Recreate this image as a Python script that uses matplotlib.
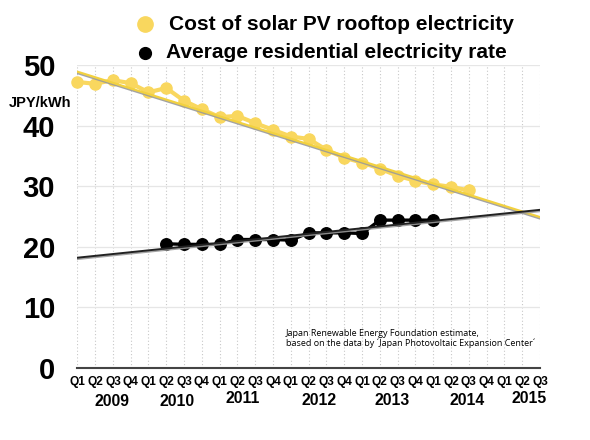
import matplotlib
matplotlib.use("Agg")
import matplotlib.pyplot as plt
import matplotlib.patheffects as pe
from matplotlib.lines import Line2D

# quarters from 2009 Q1 to 2015 Q3
quarters = ['Q1', 'Q2', 'Q3', 'Q4'] * 6 + ['Q1', 'Q2', 'Q3']
years = ['2009', '2010', '2011', '2012', '2013', '2014', '2015']

# cost of solar PV rooftop electricity, 2009 Q1 .. 2014 Q3 (JPY/kWh)
solar_x = list(range(0, 23))
solar = [47.2, 46.9, 47.5, 47.0, 45.5, 46.2, 44.1, 42.7, 41.4, 41.6, 40.4, 39.3,
         38.2, 37.8, 36.0, 34.7, 33.9, 32.9, 31.7, 30.9, 30.3, 29.9, 29.3]

# average residential electricity rate, 2010 Q2 .. 2014 Q1
rate_x = list(range(5, 21))
rate = [20.5, 20.4, 20.4, 20.4, 21.2, 21.2, 21.2, 21.1,
        22.3, 22.3, 22.3, 22.2, 24.4, 24.4, 24.4, 24.4]

# trend lines
trend_x = [0, 26]
solar_trend = [48.9, 24.9]
rate_trend = [18.2, 26.1]

yellow = '#F9D75E'
W, H = 590, 440

fig = plt.figure(figsize=(5.9, 4.4), dpi=100)
ax = fig.add_axes([77.3 / W, 1 - 368 / H, (540 - 77.3) / W, (368 - 65) / H])
ax.set_xlim(0, 26)
ax.set_ylim(0, 50)

# grid
for i in range(27):
    ax.axvline(i, color='#c8c8c8', lw=0.8, ls=(0, (1, 2)), zorder=1)
for v in [10, 20, 30, 40, 50]:
    ax.axhline(v, color='#e6e6e6', lw=0.9, zorder=1)

ax.plot(solar_x, solar, color=yellow, lw=3, marker='o', ms=8,
        mec=yellow, zorder=3, clip_on=False)
ax.plot(rate_x, rate, color='black', lw=2.4, marker='o', ms=8.3, zorder=3)

shadow = [pe.SimpleLineShadow(offset=(0, -1), shadow_color='#9a9a9a', alpha=0.9, rho=1),
          pe.Normal()]
ax.plot(trend_x, solar_trend, color='#F2D140', lw=1.6, zorder=4, path_effects=shadow)
ax.plot(trend_x, rate_trend, color='#222222', lw=1.4, zorder=4, path_effects=shadow)

for s in ['top', 'right', 'left']:
    ax.spines[s].set_visible(False)
ax.spines['bottom'].set_color('#444444')
ax.spines['bottom'].set_linewidth(1.5)
ax.spines['bottom'].set_zorder(5)

ax.set_xticks(range(27))
ax.set_xticklabels(quarters, fontsize=8.6, fontweight='bold', family='Liberation Sans')
ax.set_yticks([0, 10, 20, 30, 40, 50])
ax.set_yticklabels(['0', '10', '20', '30', '40', '50'], fontsize=21,
                   fontweight='bold', family='Liberation Sans')
ax.tick_params(axis='x', length=0, pad=6)
ax.tick_params(axis='y', length=0, pad=16)

# year labels under the quarters
year_pos = [1.95, 5.6, 9.3, 13.6, 17.7, 21.9, 25.4]
year_dy = [0, 0, 3, 1, 1, 1, 3]
for lab, xp, dy in zip(years, year_pos, year_dy):
    xf = (77.3 + xp * (540 - 77.3) / 26) / W
    fig.text(xf, 1 - (401 - dy) / H, lab, ha='center', va='center', fontsize=11.3,
             fontweight='bold', family='Liberation Sans')

fig.text(40.5 / W, 1 - 103 / H, 'JPY/kWh', ha='center', va='center', fontsize=10.5,
         fontweight='bold', family='Liberation Sans')

# legend
fig.add_artist(Line2D([145 / W], [1 - 24.5 / H], marker='o', ms=11, color=yellow,
                      mec=yellow, transform=fig.transFigure))
fig.add_artist(Line2D([145 / W], [1 - 52.5 / H], marker='o', ms=8.5, color='black',
                      transform=fig.transFigure))
fig.text(169 / W, 1 - 24 / H, 'Cost of solar PV rooftop electricity', ha='left',
         va='center', fontsize=15, fontweight='bold', family='Liberation Sans')
fig.text(166 / W, 1 - 52 / H, 'Average residential electricity rate', ha='left',
         va='center', fontsize=15, fontweight='bold', family='Liberation Sans')

fig.text(286 / W, 1 - 338.5 / H,
         'Japan Renewable Energy Foundation estimate,\n'
         'based on the data by \u00b4Japan Photovoltaic Expansion Center\u00b4',
         ha='left', va='center', fontsize=6.5, family='Open Sans', linespacing=1.1)

fig.savefig('out.png', dpi=100)
